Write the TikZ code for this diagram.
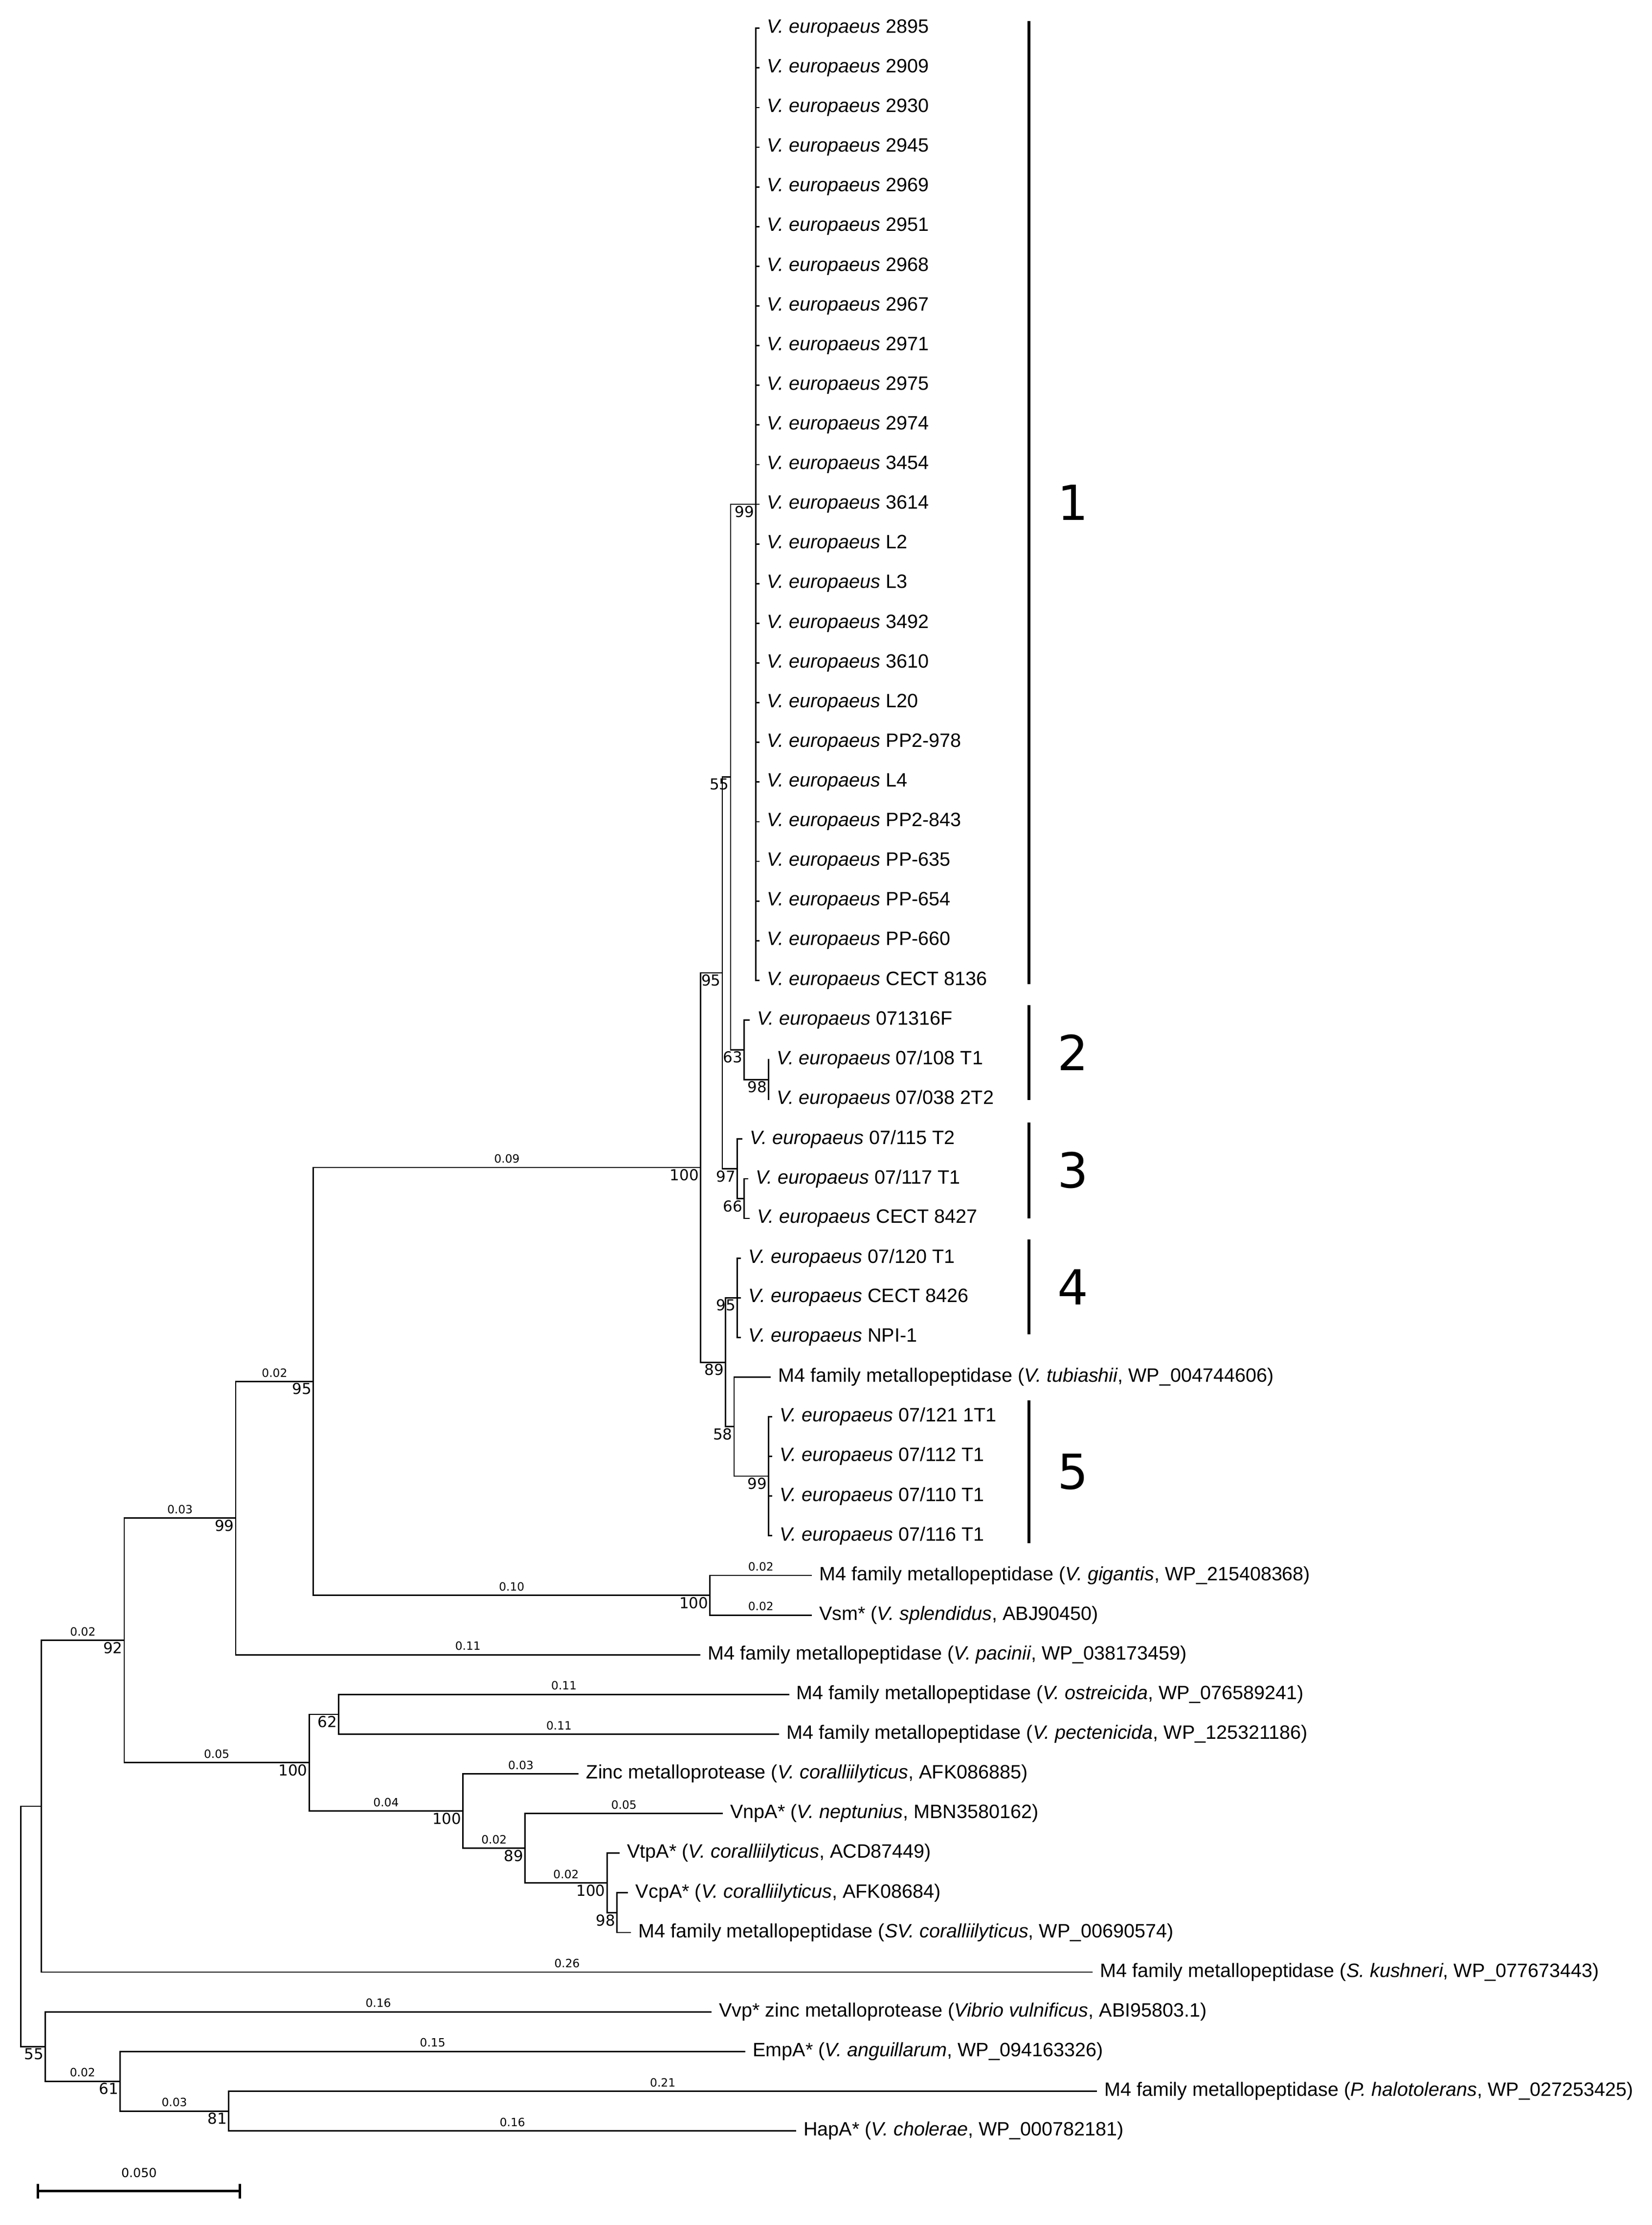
\documentclass[tikz,border=0pt]{standalone}
\usepackage{fontspec}
\setmainfont{Liberation Sans}
\newfontfamily\vfont{DejaVu Sans}
\usepackage{tikz}
\usetikzlibrary{positioning, calc}
\newcommand{\ve}{\textit{V. europaeus}}
\newcommand{\mfam}{M4 family metallopeptidase}

\begin{document}
\begin{tikzpicture}[
    x=0.02cm, y=-0.02cm,
    br/.style={line width=0.55pt},
    bar/.style={line width=1.2pt},
    leaf/.style={anchor=west, inner xsep=0.1cm, inner ysep=0pt, font=\fontsize{7.8}{9}\selectfont},
    sup/.style={font=\vfont\fontsize{6.1}{7}\selectfont, inner sep=0.5pt},
    bl/.style={font=\vfont\fontsize{4.6}{5}\selectfont, above, inner sep=1.5pt, pos=0.75},
    clade/.style={font=\vfont\fontsize{19.5}{22}\selectfont, anchor=west}
]
    \useasboundingbox (0,0) rectangle (1170,1576);

    % Internal nodes
    \coordinate[label={[sup]below left:99}] (n1) at (535.5,357.2);
    \coordinate[label={[sup]below left:98}] (n98) at (544.4,764.65);
    \coordinate[label={[sup]below left:63}] (n2) at (527.2,743.6);
    \coordinate[label={[sup]below left:55}] (n55) at (517.6,550.4);
    \coordinate[label={[sup]below left:66}] (n66) at (527.2,849);
    \coordinate[label={[sup]below left:97}] (n3) at (522.4,827.9);
    \coordinate[label={[sup]below left:95}] (n95) at (511.7,689.1);
    \coordinate[label={[sup]below left:95}] (n4) at (522.4,919.2);
    \coordinate[label={[sup]below left:99}] (n5) at (544.4,1045.6);
    \coordinate[label={[sup]below left:58}] (n58) at (520,1010.5);
    \coordinate[label={[sup]below left:89}] (n89) at (514,964.9);
    \coordinate[label={[sup]below left:100}] (x100) at (496.2,827);
    \coordinate[label={[sup]below left:100}] (ngv) at (503,1130);
    \coordinate[label={[sup]below left:95}] (x95) at (222,978.5);
    \coordinate[label={[sup]below left:99}] (nf) at (167,1075.3);
    \coordinate[label={[sup]below left:98}] (nk) at (437,1354.8);
    \coordinate[label={[sup]below left:100}] (nj) at (430,1333.7);
    \coordinate[label={[sup]below left:89}] (ni) at (372,1309.1);
    \coordinate[label={[sup]below left:100}] (nh) at (328,1282.8);
    \coordinate[label={[sup]below left:62}] (n62) at (240,1214.3);
    \coordinate[label={[sup]below left:100}] (ngr) at (219,1248.5);
    \coordinate[label={[sup]below left:92}] (ne) at (88,1161.9);
    \coordinate (nb) at (29.4,1279.4);
    \coordinate[label={[sup]below left:81}] (nl) at (162,1495.3);
    \coordinate[label={[sup]below left:61}] (nd) at (85,1474.2);
    \coordinate[label={[sup]below left:55}] (nc) at (32,1449.6);
    \coordinate (root) at (14.7,1364.5);

    % Clade 1
    \foreach \s [count=\i from 0] in {2895,2909,2930,2945,2969,2951,2968,2967,2971,2975,2974,3454,3614,L2,L3,3492,3610,L20,PP2-978,L4,PP2-843,PP-635,PP-654,PP-660,CECT 8136}{
        \node[leaf] (a\i) at (538,{20+28.1*\i}) {\ve{} \s};
        \draw[br] (n1) |- (a\i.west);
    }

    % Clades 2-5
    \node[leaf] (b1) at (531,722.5) {\ve{} 071316F};
    \node[leaf] (b2) at (545,750.6) {\ve{} 07/108 T1};
    \node[leaf] (b3) at (545,778.7) {\ve{} 07/038 2T2};
    \node[leaf] (c1) at (526,806.8) {\ve{} 07/115 T2};
    \node[leaf] (c2) at (530,834.9) {\ve{} 07/117 T1};
    \node[leaf] (c3) at (531,863) {\ve{} CECT 8427};
    \node[leaf] (d1) at (525,891.1) {\ve{} 07/120 T1};
    \node[leaf] (d2) at (525,919.2) {\ve{} CECT 8426};
    \node[leaf] (d3) at (525,947.3) {\ve{} NPI-1};
    \node[leaf] (tub) at (546,975.4) {\mfam{} (\textit{V. tubiashii}, WP\_004744606)};
    \node[leaf] (e1) at (547,1003.5) {\ve{} 07/121 1T1};
    \node[leaf] (e2) at (547,1031.6) {\ve{} 07/112 T1};
    \node[leaf] (e3) at (547,1059.7) {\ve{} 07/110 T1};
    \node[leaf] (e4) at (547,1087.8) {\ve{} 07/116 T1};

    % Other sequences
    \node[leaf] (gig) at (575,1115.9) {\mfam{} (\textit{V. gigantis}, WP\_215408368)};
    \node[leaf] (vsm) at (575,1144) {Vsm* (\textit{V. splendidus}, ABJ90450)};
    \node[leaf] (pac) at (496,1172.1) {\mfam{} (\textit{V. pacinii}, WP\_038173459)};
    \node[leaf] (ost) at (559,1200.2) {\mfam{} (\textit{V. ostreicida}, WP\_076589241)};
    \node[leaf] (pec) at (552,1228.3) {\mfam{} (\textit{V. pectenicida}, WP\_125321186)};
    \node[leaf] (zin) at (410,1256.4) {Zinc metalloprotease (\textit{V. coralliilyticus}, AFK086885)};
    \node[leaf] (vnp) at (512,1284.5) {VnpA* (\textit{V. neptunius}, MBN3580162)};
    \node[leaf] (vtp) at (439,1312.6) {VtpA* (\textit{V. coralliilyticus}, ACD87449)};
    \node[leaf] (vcp) at (445,1340.7) {VcpA* (\textit{V. coralliilyticus}, AFK08684)};
    \node[leaf] (svc) at (447,1368.8) {\mfam{} (\textit{SV. coralliilyticus}, WP\_00690574)};
    \node[leaf] (kus) at (774,1396.9) {\mfam{} (\textit{S. kushneri}, WP\_077673443)};
    \node[leaf] (vvp) at (504,1425) {Vvp* zinc metalloprotease (\textit{Vibrio vulnificus}, ABI95803.1)};
    \node[leaf] (emp) at (528,1453.1) {EmpA* (\textit{V. anguillarum}, WP\_094163326)};
    \node[leaf] (hal) at (777,1481.2) {\mfam{} (\textit{P. halotolerans}, WP\_027253425)};
    \node[leaf] (hap) at (564,1509.3) {HapA* (\textit{V. cholerae}, WP\_000782181)};

    % Branches
    \draw[br] (n2) |- (b1.west);
    \draw[br] (n2) |- (n98);
    \draw[br] (n98) |- (b2.west);
    \draw[br] (n98) |- (b3.west);
    \draw[br] (n55) |- (n1);
    \draw[br] (n55) |- (n2);
    \draw[br] (n3) |- (c1.west);
    \draw[br] (n3) |- (n66);
    \draw[br] (n66) |- (c2.west);
    \draw[br] (n66) |- (c3.west);
    \draw[br] (n95) |- (n55);
    \draw[br] (n95) |- (n3);
    \draw[br] (n4) |- (d1.west);
    \draw[br] (n4) |- (d2.west);
    \draw[br] (n4) |- (d3.west);
    \draw[br] (n5) |- (e1.west);
    \draw[br] (n5) |- (e2.west);
    \draw[br] (n5) |- (e3.west);
    \draw[br] (n5) |- (e4.west);
    \draw[br] (n58) |- (tub.west);
    \draw[br] (n58) |- (n5);
    \draw[br] (n89) |- (n4);
    \draw[br] (n89) |- (n58);
    \draw[br] (x100) |- (n95);
    \draw[br] (x100) |- (n89);
    \draw[br] (x95) |- node[bl]{0.09} (x100);
    \draw[br] (x95) |- node[bl]{0.10} (ngv);
    \draw[br] (ngv) |- node[bl]{0.02} (gig.west);
    \draw[br] (ngv) |- node[bl]{0.02} (vsm.west);
    \draw[br] (nf) |- node[bl]{0.02} (x95);
    \draw[br] (nf) |- node[bl]{0.11} (pac.west);
    \draw[br] (ne) |- node[bl]{0.03} (nf);
    \draw[br] (ne) |- node[bl]{0.05} (ngr);
    \draw[br] (ngr) |- (n62);
    \draw[br] (n62) |- node[bl]{0.11} (ost.west);
    \draw[br] (n62) |- node[bl]{0.11} (pec.west);
    \draw[br] (ngr) |- node[bl]{0.04} (nh);
    \draw[br] (nh) |- node[bl]{0.03} (zin.west);
    \draw[br] (nh) |- node[bl]{0.02} (ni);
    \draw[br] (ni) |- node[bl]{0.05} (vnp.west);
    \draw[br] (ni) |- node[bl]{0.02} (nj);
    \draw[br] (nj) |- (vtp.west);
    \draw[br] (nj) |- (nk);
    \draw[br] (nk) |- (vcp.west);
    \draw[br] (nk) |- (svc.west);
    \draw[br] (nb) |- node[bl]{0.02} (ne);
    \draw[br] (nb) |- node[bl]{0.26} (kus.west);
    \draw[br] (root) |- (nb);
    \draw[br] (root) |- (nc);
    \draw[br] (nc) |- node[bl]{0.16} (vvp.west);
    \draw[br] (nc) |- node[bl]{0.02} (nd);
    \draw[br] (nd) |- node[bl]{0.15} (emp.west);
    \draw[br] (nd) |- node[bl]{0.03} (nl);
    \draw[br] (nl) |- node[bl]{0.21} (hal.west);
    \draw[br] (nl) |- node[bl]{0.16} (hap.west);

    % Clade bars
    \coordinate (k1t) at (729,15); \coordinate (k1b) at (729,697);
    \coordinate (k2t) at (729,712); \coordinate (k2b) at (729,779);
    \coordinate (k3t) at (729,795); \coordinate (k3b) at (729,863);
    \coordinate (k4t) at (729,878); \coordinate (k4b) at (729,945);
    \coordinate (k5t) at (729,992); \coordinate (k5b) at (729,1093);
    \foreach \k in {1,...,5}{
        \draw[bar] (k\k t) -- (k\k b);
        \node[clade] (lab\k) at ($(k\k t)!0.5!(k\k b)+(14,0)$) {\k};
    }

    % Scale bar
    \coordinate (sb1) at (27,1552);
    \coordinate (sb2) at (170,1552);
    \draw[line width=1pt] (sb1) -- (sb2);
    \draw[line width=1pt] ([yshift=3pt]sb1) -- ([yshift=-3pt]sb1);
    \draw[line width=1pt] ([yshift=3pt]sb2) -- ([yshift=-3pt]sb2);
    \node[font=\vfont\fontsize{5}{6}\selectfont, above=2pt] (sblab) at ($(sb1)!0.5!(sb2)$) {0.050};
\end{tikzpicture}
\end{document}
